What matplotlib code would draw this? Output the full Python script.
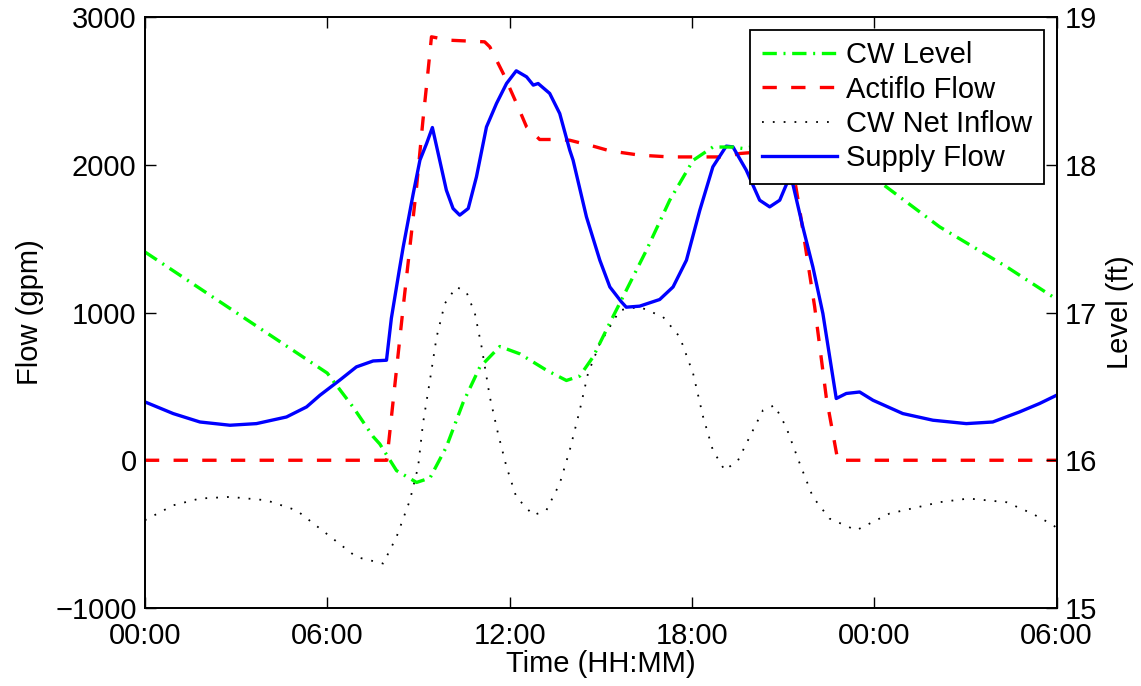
import matplotlib
matplotlib.use("Agg")
import matplotlib.pyplot as plt

plt.rcParams['font.family'] = ['Liberation Sans', 'DejaVu Sans']
plt.rcParams['font.size'] = 21

# ----------------- Data (hours from 00:00) -----------------
supply_t = [0.0, 0.93, 1.81, 2.8, 3.67, 4.66, 5.32, 5.76, 6.41, 6.96, 7.51, 7.95,
            8.11, 8.37, 8.5, 8.83, 9.05, 9.27, 9.46, 9.7, 9.92, 10.14, 10.36,
            10.64, 10.91, 11.24, 11.57, 11.9, 12.22, 12.56, 12.78, 12.94, 13.32,
            13.65, 13.98, 14.09, 14.53, 14.97, 15.3, 15.68, 15.84, 16.28, 16.94,
            17.38, 17.82, 18.26, 18.69, 19.13, 19.35, 19.79, 20.23, 20.56,
            20.89, 21.1, 21.22, 21.33, 21.65, 21.98, 22.31, 22.75, 23.08, 23.52,
            23.96, 24.94, 25.93, 27.03, 27.9, 28.78, 29.44, 30.0]
supply_q = [395, 316, 259, 237, 248, 293, 361, 440, 542, 632, 672, 677,
            961, 1286, 1444, 1805, 2031, 2144, 2252, 2031, 1828, 1704, 1659,
            1704, 1918, 2256, 2415, 2550, 2636, 2595, 2539, 2550, 2483,
            2347, 2099, 2031, 1647, 1354, 1173, 1072, 1036, 1043, 1088,
            1173, 1354, 1692, 1986, 2126, 2121, 1963, 1760, 1715,
            1760, 1862, 1920, 1862, 1579, 1309, 993, 418, 452, 462,
            406, 316, 271, 248, 259, 327, 384, 440]

actiflo_t = [0.0, 7.96, 8.5, 8.72, 8.94, 9.15, 9.32, 9.43, 10.03, 11.18, 11.35,
             11.79, 12.23, 12.56, 12.99, 13.38, 13.98, 14.75, 15.3, 16.28,
             17.27, 18.26, 19.13, 19.57, 20.4, 21.25, 21.55, 22.04, 22.42,
             22.8, 30.0]
actiflo_q = [0, 0, 1038, 1444, 1850, 2302, 2640, 2866, 2843, 2832, 2798,
             2618, 2415, 2256, 2171, 2171, 2166, 2126, 2094, 2065,
             2053, 2053, 2053, 2076, 2090, 2060, 1692, 1038, 429,
             0, 0]

inflow_t = [0.0, 0.93, 1.81, 2.8, 4.0, 4.99, 5.97, 6.96, 7.84, 8.28, 8.72, 8.99,
            9.15, 9.38, 9.6, 9.87, 10.25, 10.58, 10.86, 11.08, 11.35, 11.62,
            11.9, 12.22, 12.78, 13.21, 13.65, 13.98, 14.31, 14.58, 14.97, 15.63,
            16.28, 17.05, 17.6, 18.04, 18.37, 18.69, 19.08, 19.52, 19.9, 20.34,
            20.72, 21.1, 21.55, 21.98, 22.53, 23.41, 24.5, 26.15, 27.1, 28.35,
            29.2, 29.9, 30.0]
inflow_q = [-406, -305, -259, -248, -271, -339, -496, -655, -699, -519, -271,
            -45, 248, 542, 835, 1061, 1173, 1139, 993, 767, 429, 181, -45,
            -248, -372, -339, -158, 68, 339, 587, 790, 1016, 1038, 970, 835,
            587, 293, 68, -68, 0, 158, 339, 372, 225, -23, -248, -395, -474,
            -361, -284, -259, -284, -361, -440, -460]

level_t = [0.0, 3.0, 6.0, 6.85, 7.51, 7.73, 8.28, 8.94, 9.38, 9.92, 10.47,
           11.02, 11.68, 12.34, 13.21, 13.87, 14.31, 14.75, 15.3, 15.84, 16.5,
           17.27, 18.04, 18.69, 19.35, 19.68, 20.5, 21.5, 22.5, 23.5, 24.4,
           26.15, 28.35, 29.7, 30.0]
level_ft = [17.41, 17.0, 16.59, 16.36, 16.16, 16.11, 15.93, 15.85, 15.88,
            16.09, 16.39, 16.63, 16.77, 16.72, 16.61, 16.54, 16.57, 16.7,
            16.93, 17.15, 17.42, 17.76, 18.03, 18.12, 18.12, 18.11, 18.14,
            18.15, 18.12, 17.98, 17.85, 17.58, 17.31, 17.13, 17.09]

x_ticks = [0, 6, 12, 18, 24, 30]
x_ticklabels = ["00:00", "06:00", "12:00", "18:00", "00:00", "06:00"]
flow_ticks = [-1000, 0, 1000, 2000, 3000]
level_ticks = [15, 16, 17, 18, 19]

# ----------------- Plot -----------------
fig = plt.figure(figsize=(11.41, 6.86), dpi=100)
ax1 = fig.add_axes([0.127, 0.1137, 0.799, 0.8615])
ax2 = ax1.twinx()

l_act, = ax1.plot(actiflo_t, actiflo_q, color='red', linewidth=2.4,
                  linestyle=(0, (4.3, 4.3)), label='Actiflo Flow')
l_inf, = ax1.plot(inflow_t, inflow_q, color='black', linewidth=1.3,
                  linestyle=(0, (1, 5)), label='CW Net Inflow')
l_sup, = ax1.plot(supply_t, supply_q, color='blue', linewidth=2.4,
                  solid_joinstyle='round', label='Supply Flow')
l_lvl, = ax2.plot(level_t, level_ft, color=(0, 1, 0), linewidth=2.4,
                  linestyle=(0, (4.3, 2.0, 0.6, 2.0)), label='CW Level')

ax1.set_xlim(0, 30)
ax1.set_ylim(-1000, 3000)
ax2.set_ylim(15, 19)
ax1.set_xticks(x_ticks)
ax1.set_xticklabels(x_ticklabels)
ax1.set_yticks(flow_ticks)
ax2.set_yticks(level_ticks)

ax1.tick_params(axis='x', direction='in', length=8, width=1, top=True, pad=10)
ax1.tick_params(axis='y', direction='in', length=8, width=1, pad=6)
ax2.tick_params(axis='y', direction='in', length=8, width=1, pad=6)
for ax in (ax1, ax2):
    for s in ax.spines.values():
        s.set_linewidth(1.3)

ax1.set_xlabel("Time (HH:MM)", labelpad=0)
ax1.set_ylabel("Flow (gpm)", labelpad=8)
ax2.set_ylabel("Level (ft)", labelpad=6)

leg = ax2.legend(handles=[l_lvl, l_act, l_inf, l_sup], loc='upper right',
                 fancybox=False, framealpha=1, edgecolor='black',
                 borderaxespad=0.43, borderpad=0.4, handlelength=2.6,
                 handletextpad=0.3, labelspacing=0.22)
leg.get_frame().set_linewidth(1.3)

fig.savefig("out.png", dpi=100)
